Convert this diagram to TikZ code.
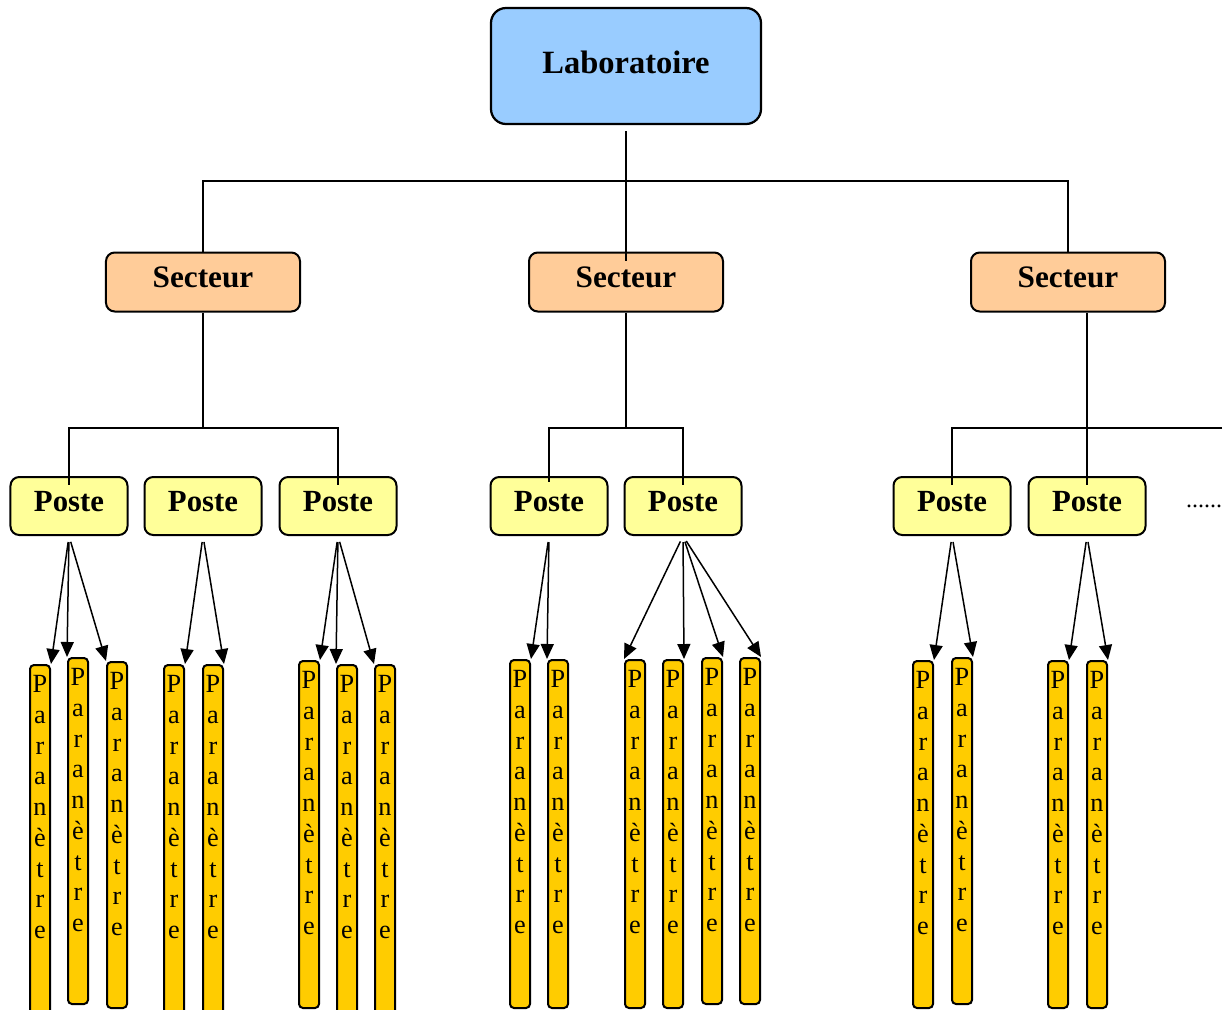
\documentclass[tikz,border=0pt]{standalone}
\usepackage{fontspec}
\setmainfont{Liberation Serif}
\usetikzlibrary{arrows.meta}
\definecolor{labfill}{HTML}{99CCFF}
\definecolor{secfill}{HTML}{FFCC99}
\definecolor{postfill}{HTML}{FFFF99}
\definecolor{parfill}{HTML}{FFCC00}
\newcommand{\paramword}{P\\a\\r\\a\\n\\è\\t\\r\\e}
\tikzset{
  labo/.style={draw, line width=0.9pt, rounded corners=6pt, fill=labfill, minimum width=108pt, minimum height=46.4pt, text depth=3.2pt, font=\fontsize{13}{15}\selectfont\bfseries},
  secteur/.style={draw, line width=0.8pt, rounded corners=3.5pt, fill=secfill, minimum width=77.6pt, minimum height=23.6pt, text depth=4pt, font=\fontsize{12.5}{14}\selectfont\bfseries},
  poste/.style={draw, line width=0.8pt, rounded corners=3.5pt, fill=postfill, minimum width=46.8pt, minimum height=23.2pt, text depth=4pt, font=\fontsize{12.3}{14}\selectfont\bfseries},
  param/.style={draw, line width=0.8pt, rounded corners=1.6pt, fill=parfill, minimum width=8pt, inner sep=0pt, anchor=north, label={[partext]north:\paramword}},
  partext/.style={anchor=north, yshift=-4.4pt, align=center, inner sep=0pt, font=\fontsize{10.5}{12.3}\selectfont},
  tree/.style={line width=0.7pt},
  fleche/.style={line width=0.6pt, -{Triangle[length=6pt,width=5.2pt]}, shorten <=2.4pt},
}
\begin{document}
\begin{tikzpicture}[x=0.4pt, y=-0.4pt]
  \clip (0,0) rectangle (1228,1009);
  % niveaux
  \node[labo] (lab) at (626,66) {Laboratoire};
  \node[secteur] (s1) at (203,282) {Secteur};
  \node[secteur] (s2) at (626,282) {Secteur};
  \node[secteur] (s3) at (1068,282) {Secteur};
  \node[poste] (p1) at (69,506) {Poste};
  \node[poste] (p2) at (203,506) {Poste};
  \node[poste] (p3) at (338,506) {Poste};
  \node[poste] (p4) at (549,506) {Poste};
  \node[poste] (p5) at (683,506) {Poste};
  \node[poste] (p6) at (952,506) {Poste};
  \node[poste] (p7) at (1087,506) {Poste};
  \node[font=\fontsize{9.6}{11}\selectfont, inner sep=0pt] (more) at (1204,506) {......};
  % parametres
  \node[param, minimum height=140pt] (b11) at (40,664) {};
  \node[param, minimum height=138.4pt] (b12) at (78,657) {};
  \node[param, minimum height=138.4pt] (b13) at (117,661) {};
  \node[param, minimum height=140pt] (b21) at (174,664) {};
  \node[param, minimum height=140pt] (b22) at (213,664) {};
  \node[param, minimum height=138.8pt] (b31) at (309,660) {};
  \node[param, minimum height=140pt] (b32) at (347,664) {};
  \node[param, minimum height=140pt] (b33) at (385,664) {};
  \node[param, minimum height=139.2pt] (b41) at (520,659) {};
  \node[param, minimum height=139.2pt] (b42) at (558,659) {};
  \node[param, minimum height=139.2pt] (b51) at (635,659) {};
  \node[param, minimum height=139.2pt] (b52) at (673,659) {};
  \node[param, minimum height=138.4pt] (b53) at (712,657) {};
  \node[param, minimum height=138.4pt] (b54) at (750,657) {};
  \node[param, minimum height=138.8pt] (b61) at (923,660) {};
  \node[param, minimum height=138.4pt] (b62) at (962,657) {};
  \node[param, minimum height=138.8pt] (b71) at (1058,660) {};
  \node[param, minimum height=138.8pt] (b72) at (1097,660) {};
  % liaisons
  \coordinate (h0) at (626,181);
  \coordinate (j1) at (203,428);
  \coordinate (j2) at (626,428);
  \coordinate (j3) at (1222,428);
  \draw[tree, line width=1pt] ([yshift=-2.4pt]lab.south) -- ([yshift=-3.6pt]s2.north);
  \draw[tree, line width=1pt] (s1.north) |- (h0) -| (s3.north);
  \draw[tree] (s1.south) -- (j1) -| ([yshift=-3.6pt]p1.north);
  \draw[tree] (j1) -| ([yshift=-3.6pt]p3.north);
  \draw[tree] (s2.south) -- (j2) -| ([yshift=-2.4pt]p4.north);
  \draw[tree] (j2) -| ([yshift=-3.6pt]p5.north);
  \draw[tree] (s3.south -| p7.north) -- ([yshift=-3.6pt]p7.north);
  \draw[tree] (j3) -| ([yshift=-3.6pt]p6.north);
  % fleches
  \draw[fleche] (p1.south) -- (b11.north east);
  \draw[fleche] (p1.south) -- (b12.north west);
  \draw[fleche] (p1.south) -- (b13.north west);
  \draw[fleche] (p2.south) -- (b21.north east);
  \draw[fleche] (p2.south) -- (b22.north east);
  \draw[fleche] (p3.south) -- (b31.north east);
  \draw[fleche] (p3.south) -- (b32.north west);
  \draw[fleche] (p3.south) -- (b33.north west);
  \draw[fleche] (p4.south) -- (b41.north east);
  \draw[fleche] (p4.south) -- (b42.north west);
  \draw[fleche] (p5.south) -- (b51.north west);
  \draw[fleche] (p5.south) -- (b52.north east);
  \draw[fleche] (p5.south) -- (b53.north east);
  \draw[fleche] (p5.south) -- (b54.north east);
  \draw[fleche] (p6.south) -- (b61.north east);
  \draw[fleche] (p6.south) -- (b62.north east);
  \draw[fleche] (p7.south) -- (b71.north east);
  \draw[fleche] (p7.south) -- (b72.north east);
\end{tikzpicture}
\end{document}
